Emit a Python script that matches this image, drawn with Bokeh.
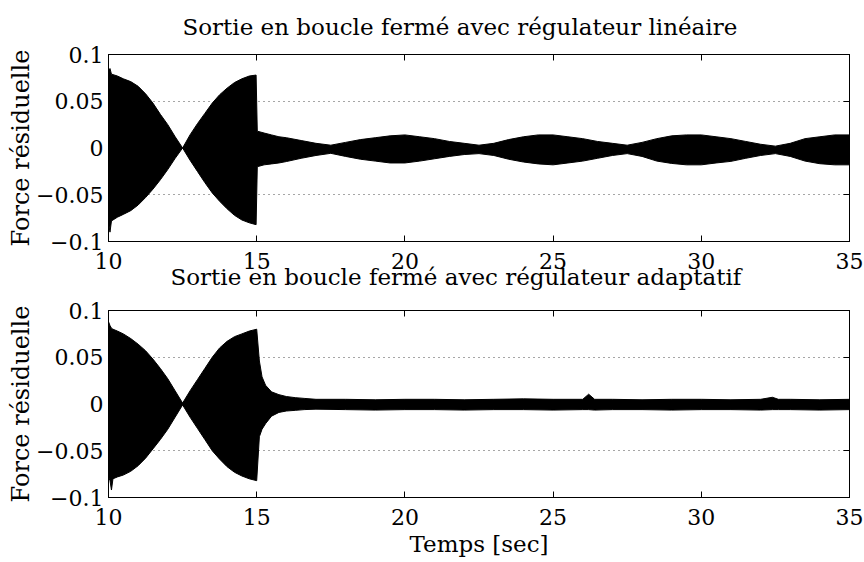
from bokeh.plotting import figure
from bokeh.layouts import column
from bokeh.models import Range1d, FixedTicker, LinearAxis, Title, ColumnDataSource
from bokeh.embed import file_html
from bokeh.resources import INLINE

# ---------------- data (envelopes) ----------------
x_ticks = [10, 15, 20, 25, 30, 35]
y_ticks = [-0.1, -0.05, 0, 0.05, 0.1]
y_tick_labels = ["\u22120.1", "\u22120.05", "0", "0.05", "0.1"]

title_lin = "Sortie en boucle fermé avec régulateur linéaire"
title_ada = "Sortie en boucle fermé avec régulateur adaptatif"
y_label = "Force résiduelle"
x_label = "Temps [sec]"

t_lin = [10.0, 10.05, 10.1, 10.3, 10.5, 10.75, 11.0, 11.25, 11.5, 11.75, 12.0, 12.25,
         12.5, 12.75, 13.0, 13.25, 13.5, 13.75, 14.0, 14.25, 14.5, 14.75, 14.98, 15.02,
         15.25, 15.5, 15.75, 16.0, 16.5, 17.0, 17.5, 18.0, 18.5, 19.0, 19.5, 20.0, 20.5,
         21.0, 21.5, 22.0, 22.5, 23.0, 23.5, 24.0, 24.5, 25.0, 25.5, 26.0, 26.5, 27.0,
         27.5, 28.0, 28.5, 29.0, 29.5, 30.0, 30.5, 31.0, 31.5, 32.0, 32.5, 33.0, 33.5,
         34.0, 34.5, 35.0]
up_lin = [0.082, 0.085, 0.079, 0.077, 0.074, 0.071, 0.066, 0.058, 0.048, 0.036, 0.025, 0.012,
          0.0, 0.014, 0.026, 0.037, 0.048, 0.057, 0.064, 0.070, 0.074, 0.077, 0.078, 0.018,
          0.016, 0.014, 0.012, 0.011, 0.008, 0.005, 0.003, 0.006, 0.009, 0.011, 0.013, 0.014, 0.012,
          0.010, 0.007, 0.005, 0.003, 0.005, 0.009, 0.012, 0.014, 0.014, 0.012, 0.010, 0.007, 0.005,
          0.003, 0.006, 0.010, 0.013, 0.014, 0.014, 0.012, 0.010, 0.007, 0.004, 0.002, 0.005, 0.010,
          0.012, 0.014, 0.014]
lo_lin = [-0.080, -0.090, -0.078, -0.074, -0.071, -0.067, -0.061, -0.053, -0.044, -0.034, -0.023, -0.011,
          0.0, -0.013, -0.025, -0.037, -0.048, -0.057, -0.065, -0.072, -0.077, -0.080, -0.082, -0.020,
          -0.018, -0.017, -0.016, -0.0145, -0.011, -0.008, -0.0057, -0.009, -0.012, -0.014, -0.016, -0.016, -0.014,
          -0.0115, -0.009, -0.007, -0.006, -0.008, -0.012, -0.015, -0.017, -0.018, -0.016, -0.014, -0.011, -0.008,
          -0.006, -0.009, -0.014, -0.0165, -0.018, -0.018, -0.016, -0.0143, -0.011, -0.008, -0.006, -0.009, -0.014,
          -0.0168, -0.018, -0.018]

t_ada = [10.0, 10.05, 10.1, 10.15, 10.3, 10.5, 10.75, 11.0, 11.25, 11.5, 11.75, 12.0, 12.25,
         12.5, 12.75, 13.0, 13.25, 13.5, 13.75, 14.0, 14.25, 14.5, 14.75, 15.0, 15.09,
         15.18, 15.3, 15.5, 15.75, 16.0, 16.3, 16.6, 17.0, 18.0, 19.0, 20.0, 21.0, 22.0,
         23.0, 24.0, 25.0, 26.0, 26.2, 26.4, 27.0, 28.0, 29.0, 30.0, 31.0, 32.0, 32.4,
         32.6, 33.0, 34.0, 35.0]
up_ada = [0.088, 0.084, 0.081, 0.080, 0.078, 0.075, 0.070, 0.064, 0.057, 0.048, 0.038, 0.027, 0.014,
          0.001, 0.014, 0.026, 0.038, 0.050, 0.060, 0.067, 0.072, 0.075, 0.078, 0.080, 0.046,
          0.029, 0.020, 0.013, 0.010, 0.008, 0.0068, 0.006, 0.005, 0.005, 0.0045, 0.005, 0.005, 0.0045,
          0.005, 0.0055, 0.005, 0.005, 0.0105, 0.005, 0.005, 0.0045, 0.005, 0.005, 0.0045, 0.005, 0.0072,
          0.005, 0.005, 0.0045, 0.005]
lo_ada = [-0.078, -0.082, -0.092, -0.080, -0.078, -0.076, -0.072, -0.066, -0.058, -0.048, -0.038, -0.027, -0.014,
          -0.001, -0.014, -0.026, -0.038, -0.050, -0.059, -0.067, -0.073, -0.077, -0.080, -0.082, -0.035,
          -0.027, -0.021, -0.013, -0.009, -0.0075, -0.0068, -0.006, -0.0055, -0.006, -0.0065, -0.006, -0.006, -0.0065,
          -0.006, -0.006, -0.0065, -0.006, -0.006, -0.0065, -0.006, -0.006, -0.0065, -0.006, -0.006, -0.0065, -0.006,
          -0.006, -0.006, -0.0065, -0.006]

FONT = "DejaVu Serif"
FS = "22px"


def make_fig(t, up, lo, b_top, b_bottom, xlab=None):
    p = figure(frame_width=741, frame_height=187,
               min_border_left=108, min_border_right=15,
               min_border_top=b_top, min_border_bottom=b_bottom,
               x_range=Range1d(10, 35), y_range=Range1d(-0.1, 0.1),
               output_backend="svg", toolbar_location=None,
               background_fill_color="white", border_fill_color="white")
    src = ColumnDataSource(dict(t=t, up=up, lo=lo))
    p.varea(x="t", y1="lo", y2="up", source=src, fill_color="black")
    p.line(x="t", y="up", source=src, line_color="black", line_width=1)
    p.line(x="t", y="lo", source=src, line_color="black", line_width=1)

    p.outline_line_color = "black"
    p.outline_line_width = 1
    p.xgrid.visible = False
    p.ygrid.ticker = FixedTicker(ticks=y_ticks)
    p.ygrid.grid_line_color = "black"
    p.ygrid.grid_line_alpha = 0.7
    p.ygrid.grid_line_dash = "1 4"

    overrides = {v: s for v, s in zip(y_ticks, y_tick_labels)}
    for ax in p.xaxis:
        ax.ticker = FixedTicker(ticks=x_ticks)
    for ax in p.yaxis:
        ax.ticker = FixedTicker(ticks=y_ticks)
        ax.major_label_overrides = overrides
    for ax in list(p.xaxis) + list(p.yaxis):
        ax.major_tick_in = 6
        ax.major_tick_out = 0
        ax.minor_tick_line_color = None
        ax.axis_line_color = "black"
        ax.major_tick_line_color = "black"
        ax.major_label_text_font = FONT
        ax.major_label_text_font_size = FS
        ax.major_label_text_color = "black"
        ax.axis_label_text_font = FONT
        ax.axis_label_text_font_size = "23px"
        ax.axis_label_text_font_style = "normal"
        ax.axis_label_text_color = "black"
    for ax in p.xaxis:
        ax.major_label_standoff = 11
    for ax in p.yaxis:
        ax.major_label_standoff = 5
        ax.axis_label = y_label
        ax.axis_label_text_font_size = "24px"
        ax.axis_label_standoff = -2
    if xlab:
        p.xaxis.axis_label = xlab
        p.xaxis.axis_label_standoff = 3

    top_ax = LinearAxis(ticker=FixedTicker(ticks=x_ticks))
    right_ax = LinearAxis(ticker=FixedTicker(ticks=y_ticks))
    for ax in (top_ax, right_ax):
        ax.major_tick_in = 6
        ax.major_tick_out = 0
        ax.minor_tick_line_color = None
        ax.major_label_text_font_size = "1px"
        ax.major_label_text_color = None
        ax.major_label_standoff = 0
        ax.axis_line_color = "black"
        ax.major_tick_line_color = "black"
    p.add_layout(top_ax, "above")
    p.add_layout(right_ax, "right")
    return p


p1 = make_fig(t_lin, up_lin, lo_lin, 53, 52)
p1.add_layout(Title(text=title_lin, align="left", offset=74, standoff=26,
                    vertical_align="top",
                    text_font=FONT, text_font_size="23px", text_font_style="normal",
                    text_color="black"), "above")
p1.add_layout(Title(text=title_ada, align="left", offset=62, standoff=-16,
                    vertical_align="top",
                    text_font=FONT, text_font_size="23px", text_font_style="normal",
                    text_color="black"), "below")

p2 = make_fig(t_ada, up_ada, lo_ada, 17, 62, xlab=x_label)

layout = column(p1, p2, spacing=0)
open("out.html", "w").write(file_html(layout, INLINE))
